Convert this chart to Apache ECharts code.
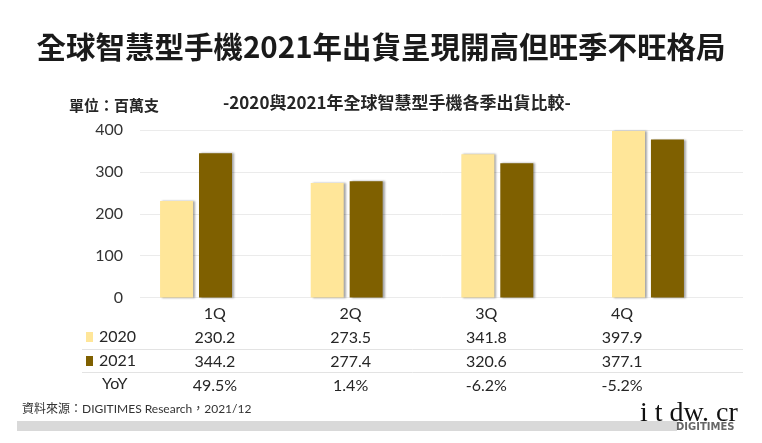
<!DOCTYPE html>
<html>
<head>
<meta charset="utf-8">
<script src="https://cdn.jsdelivr.net/npm/echarts@6/dist/echarts.min.js"></script>
<style>html,body{margin:0;padding:0;background:#fff;}#c{width:762px;height:443px;}</style>
</head>
<body>
<div id="c"></div>
<script>
var quarters = ['1Q', '2Q', '3Q', '4Q'];
var ship2020 = [230.2, 273.5, 341.8, 397.9];
var ship2021 = [344.2, 277.4, 320.6, 377.1];
var yoy = [49.5, 1.4, -6.2, -5.2];
var seriesNames = ['2020', '2021'];
var yTicks = [0, 100, 200, 300, 400];

var mainTitle = '全球智慧型手機2021年出貨呈現開高但旺季不旺格局';
var subTitle = '-2020與2021年全球智慧型手機各季出貨比較-';
var unitText = '單位：百萬支';
var sourceText = '資料來源：DIGITIMES Research，2021/12';

var CJK = "'Noto Sans CJK TC'";
var NUM = "Lato, 'Noto Sans CJK TC'";
var light = '#FFE699';
var dark = '#7F6000';

var chart = echarts.init(document.getElementById('c'), null, {renderer: 'canvas'});
var yMin = yTicks[0], yMax = yTicks[yTicks.length - 1], yStep = yTicks[1] - yTicks[0];

var option = {
  backgroundColor: '#ffffff',
  animation: false,
  title: [
    {text: mainTitle, left: 'center', top: 27, textStyle: {fontFamily: CJK, fontSize: 29.5, fontWeight: 'bold', color: '#1a1a1a'}},
    {text: subTitle, left: 218, top: 89, textStyle: {fontFamily: CJK, fontSize: 17, fontWeight: 'bold', color: '#262626'}},
    {text: unitText, left: 64, top: 93, textStyle: {fontFamily: CJK, fontSize: 15, fontWeight: 'bold', color: '#262626'}}
  ],
  legend: {
    data: seriesNames,
    orient: 'vertical',
    left: 86, top: 329, padding: 0,
    itemGap: 8, itemWidth: 7, itemHeight: 10, icon: 'rect',
    textStyle: {fontFamily: NUM, fontSize: 16, color: '#262626', lineHeight: 16, padding: [0, 0, 0, 1]}
  },
  grid: [
    {left: 140, right: 19, top: 130, bottom: 145.5},
    {left: 120.7, right: 38.7, top: 130, bottom: 145.5},
    {left: 147, right: 72, top: 130, bottom: 145.5}
  ],
  xAxis: [
    {gridIndex: 0, type: 'category', data: quarters, show: false},
    {gridIndex: 1, type: 'category', data: quarters, show: false},
    {gridIndex: 2, type: 'category', data: quarters,
     axisLine: {show: false}, axisTick: {show: false}, splitLine: {show: false},
     axisLabel: {
       margin: 4, lineHeight: 24, fontFamily: NUM, fontSize: 16, color: '#262626',
       formatter: function (v, i) {
         return [v, ship2020[i].toFixed(1), ship2021[i].toFixed(1), yoy[i].toFixed(1) + '%'].join('\n');
       }
     }}
  ],
  yAxis: [
    {gridIndex: 0, type: 'value', min: yMin, max: yMax, interval: yStep,
     axisLine: {show: false}, axisTick: {show: false},
     axisLabel: {margin: 17, fontFamily: NUM, fontSize: 16, color: '#333333'},
     splitLine: {lineStyle: {color: '#ebebeb', width: 1}}},
    {gridIndex: 1, type: 'value', min: yMin, max: yMax, interval: yStep, show: false, splitLine: {show: false}},
    {gridIndex: 2, type: 'value', min: yMin, max: yMax, show: false, splitLine: {show: false}}
  ],
  series: [
    {name: seriesNames[0], type: 'bar', xAxisIndex: 1, yAxisIndex: 1, data: ship2020,
     barWidth: 33, barGap: '18%',
     itemStyle: {color: light, shadowColor: 'rgba(0,0,0,0.35)', shadowBlur: 2, shadowOffsetX: 2, shadowOffsetY: 0}},
    {name: seriesNames[1], type: 'bar', xAxisIndex: 1, yAxisIndex: 1, data: ship2021,
     barWidth: 33, barGap: '18%',
     itemStyle: {color: dark, shadowColor: 'rgba(0,0,0,0.35)', shadowBlur: 2, shadowOffsetX: 2, shadowOffsetY: 0}}
  ],
  graphic: [
    {type: 'line', shape: {x1: 82, y1: 349.5, x2: 743, y2: 349.5}, style: {stroke: '#e3e3e3', lineWidth: 1}},
    {type: 'line', shape: {x1: 82, y1: 372.5, x2: 743, y2: 372.5}, style: {stroke: '#e3e3e3', lineWidth: 1}},
    {type: 'text', left: 102, top: 376, style: {text: 'YoY', font: "16px Lato, 'Noto Sans CJK TC'", fill: '#262626'}},
    {type: 'text', left: 22, top: 403, style: {text: sourceText, font: "12px Lato, 'Noto Sans CJK TC'", fill: '#333333'}},
    {type: 'rect', shape: {x: 17, y: 421, width: 660, height: 10}, style: {fill: '#d9d9d9'}},
    {type: 'text', left: 676, top: 422, style: {text: 'DIGITIMES', font: "bold 10px 'DejaVu Sans'", fill: '#666666'}},
    {type: 'text', left: 640, top: 400, style: {text: 'i t dw. cr', font: "28px 'Liberation Serif'", fill: '#111111'}}
  ]
};
chart.setOption(option);
</script>
</body>
</html>
